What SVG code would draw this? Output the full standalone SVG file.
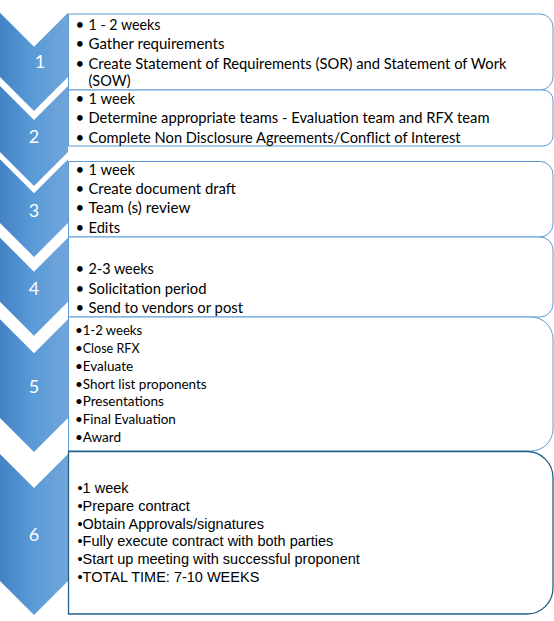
<svg xmlns="http://www.w3.org/2000/svg" width="554" height="621" viewBox="0 0 554 621">
<defs>
<linearGradient id="chev" x1="0" y1="0" x2="1" y2="0">
<stop offset="0" stop-color="#4382C4"/>
<stop offset="0.5" stop-color="#5A9BD8"/>
<stop offset="1" stop-color="#72A5DA"/>
</linearGradient>
</defs>
<style>
.chev{fill:url(#chev);}
.num{font-family:Lato,"Open Sans",sans-serif;font-size:18px;fill:#FFFFFF;text-anchor:middle;}
.box{fill:#FFFFFF;stroke:#5B9BD5;stroke-width:1;}
.box6{fill:#FFFFFF;stroke:#23608A;stroke-width:1.3;}
.t16{font-family:Lato,"Open Sans",sans-serif;font-size:15px;fill:#000000;}
.t14{font-family:Lato,"Open Sans",sans-serif;font-size:13.6px;fill:#000000;}
.ta{font-family:"Liberation Sans",Arial,sans-serif;font-size:14.5px;fill:#000000;}
</style>
<rect width="554" height="621" fill="#FFFFFF"/>

<g id="step1">
<polygon class="chev" points="0,12.7 34,46.7 68,12.7 68,77 34,111 0,77"/>
<text class="num" x="40" y="68">1</text>
<path class="box" d="M68.5,14 H540 A13,13 0 0 1 553,27 V77 A13,13 0 0 1 540,90 H68.5 Z"/>
<text class="t16"><tspan x="75.5" y="29.5">•</tspan><tspan x="88.5" y="29.5" textLength="72" lengthAdjust="spacingAndGlyphs">1 - 2 weeks</tspan></text>
<text class="t16"><tspan x="75.5" y="49">•</tspan><tspan x="88.5" y="49" textLength="136" lengthAdjust="spacingAndGlyphs">Gather requirements</tspan></text>
<text class="t16"><tspan x="75.5" y="68.5">•</tspan><tspan x="88.5" y="68.5" textLength="418" lengthAdjust="spacingAndGlyphs">Create Statement of Requirements (SOR) and Statement of Work</tspan><tspan x="88.5" y="86" textLength="42" lengthAdjust="spacingAndGlyphs">(SOW)</tspan></text>
</g>

<g id="step2">
<polygon class="chev" points="0,86 34,120 68,86 68,152 34,186 0,152"/>
<text class="num" x="34" y="143">2</text>
<path class="box" d="M68.5,90 H543 A10,10 0 0 1 553,100 V136 A10,10 0 0 1 543,146 H68.5 Z"/>
<text class="t16"><tspan x="75.5" y="104">•</tspan><tspan x="88.5" y="104" textLength="46.4" lengthAdjust="spacingAndGlyphs">1 week</tspan></text>
<text class="t16"><tspan x="75.5" y="123.2">•</tspan><tspan x="88.5" y="123.2" textLength="401" lengthAdjust="spacingAndGlyphs">Determine appropriate teams - Evaluation team and RFX team</tspan></text>
<text class="t16"><tspan x="75.5" y="142.5">•</tspan><tspan x="88.5" y="142.5" textLength="372" lengthAdjust="spacingAndGlyphs">Complete Non Disclosure Agreements/Conflict of Interest</tspan></text>
</g>

<g id="step3">
<polygon class="chev" points="0,159.3 34,193.3 68,159.3 68,223 34,257 0,223"/>
<text class="num" x="34" y="216.5">3</text>
<path class="box" d="M68.5,161.5 H540 A13,13 0 0 1 553,174.5 V224 A13,13 0 0 1 540,237 H68.5 Z"/>
<text class="t16"><tspan x="75.5" y="175">•</tspan><tspan x="88.5" y="175" textLength="46.4" lengthAdjust="spacingAndGlyphs">1 week</tspan></text>
<text class="t16"><tspan x="75.5" y="194">•</tspan><tspan x="88.5" y="194" textLength="147.5" lengthAdjust="spacingAndGlyphs">Create document draft</tspan></text>
<text class="t16"><tspan x="75.5" y="213.3">•</tspan><tspan x="88.5" y="213.3" textLength="102" lengthAdjust="spacingAndGlyphs">Team (s) review</tspan></text>
<text class="t16"><tspan x="75.5" y="232.7">•</tspan><tspan x="88.5" y="232.7" textLength="31.5" lengthAdjust="spacingAndGlyphs">Edits</tspan></text>
</g>

<g id="step4">
<polygon class="chev" points="0,237.7 34,271.7 68,237.7 68,301.7 34,335.7 0,301.7"/>
<text class="num" x="34" y="294.5">4</text>
<path class="box" d="M68.5,237 H540 A13,13 0 0 1 553,250 V304 A13,13 0 0 1 540,317 H68.5 Z"/>
<text class="t16"><tspan x="75.5" y="274.3">•</tspan><tspan x="88.5" y="274.3" textLength="65.3" lengthAdjust="spacingAndGlyphs">2-3 weeks</tspan></text>
<text class="t16"><tspan x="75.5" y="294">•</tspan><tspan x="88.5" y="294" textLength="118" lengthAdjust="spacingAndGlyphs">Solicitation period</tspan></text>
<text class="t16"><tspan x="75.5" y="313.3">•</tspan><tspan x="88.5" y="313.3" textLength="154.5" lengthAdjust="spacingAndGlyphs">Send to vendors or post</tspan></text>
</g>

<g id="step5">
<polygon class="chev" points="0,319.3 34,353.3 68,319.3 68,418 34,452 0,418"/>
<text class="num" x="34" y="393">5</text>
<path class="box" d="M68.5,317 H531 A22,22 0 0 1 553,339 V429 A22,22 0 0 1 531,451 H68.5 Z"/>
<text class="t14"><tspan x="75" y="335">•</tspan><tspan x="82.7" y="335" textLength="59.5" lengthAdjust="spacingAndGlyphs">1-2 weeks</tspan></text>
<text class="t14"><tspan x="75" y="352.8">•</tspan><tspan x="82.7" y="352.8" textLength="56.9" lengthAdjust="spacingAndGlyphs">Close RFX</tspan></text>
<text class="t14"><tspan x="75" y="370.7">•</tspan><tspan x="82.7" y="370.7" textLength="50.5" lengthAdjust="spacingAndGlyphs">Evaluate</tspan></text>
<text class="t14"><tspan x="75" y="388.5">•</tspan><tspan x="82.7" y="388.5" textLength="124" lengthAdjust="spacingAndGlyphs">Short list proponents</tspan></text>
<text class="t14"><tspan x="75" y="406.3">•</tspan><tspan x="82.7" y="406.3" textLength="81.2" lengthAdjust="spacingAndGlyphs">Presentations</tspan></text>
<text class="t14"><tspan x="75" y="424.2">•</tspan><tspan x="82.7" y="424.2" textLength="93.1" lengthAdjust="spacingAndGlyphs">Final Evaluation</tspan></text>
<text class="t14"><tspan x="75" y="442">•</tspan><tspan x="82.7" y="442" textLength="38.4" lengthAdjust="spacingAndGlyphs">Award</tspan></text>
</g>

<g id="step6">
<polygon class="chev" points="0,454 34,488 68,454 68,581 34,615 0,581"/>
<text class="num" x="34" y="541">6</text>
<path class="box6" d="M68.5,451.5 H527 A26,26 0 0 1 553,477.5 V588 A26,26 0 0 1 527,614 H68.5 Z"/>
<text class="ta" x="77.5" y="492.7">•1 week</text>
<text class="ta" x="77.5" y="510.6">•Prepare contract</text>
<text class="ta" x="77.5" y="528.5">•Obtain Approvals/signatures</text>
<text class="ta" x="77.5" y="546.4">•Fully execute contract with both parties</text>
<text class="ta" x="77.5" y="564.3">•Start up meeting with successful proponent</text>
<text class="ta" x="77.5" y="582.2">•TOTAL TIME: 7-10 WEEKS</text>
</g>

<g id="connectors"></g>
</svg>
